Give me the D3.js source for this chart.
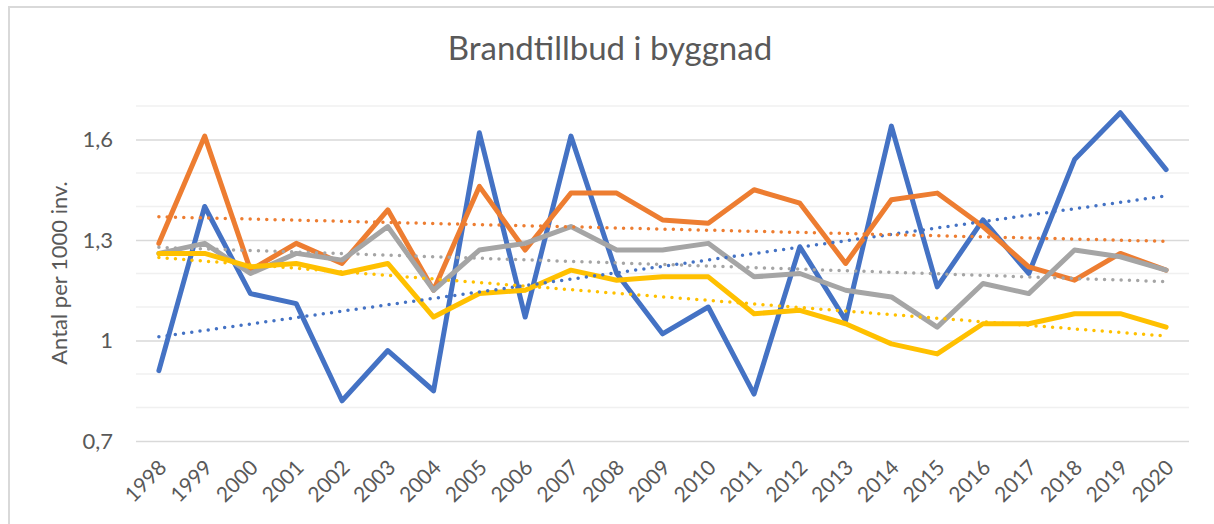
<!DOCTYPE html>
<html>
<head>
<meta charset="utf-8">
<script src="https://cdn.jsdelivr.net/npm/d3@7"></script>
<style>
  html, body { margin: 0; padding: 0; background: #fff; }
  svg text { font-family: Lato, "Open Sans", sans-serif; fill: #595959; }
</style>
</head>
<body>
<div id="chart"></div>
<script>
const years = ["1998","1999","2000","2001","2002","2003","2004","2005","2006","2007","2008","2009","2010","2011","2012","2013","2014","2015","2016","2017","2018","2019","2020"];
const blueValues   = [0.91,1.40,1.14,1.11,0.82,0.97,0.85,1.62,1.07,1.61,1.20,1.02,1.10,0.84,1.28,1.06,1.64,1.16,1.36,1.20,1.54,1.68,1.51];
const orangeValues = [1.29,1.61,1.21,1.29,1.23,1.39,1.15,1.46,1.27,1.44,1.44,1.36,1.35,1.45,1.41,1.23,1.42,1.44,1.34,1.22,1.18,1.26,1.21];
const grayValues   = [1.26,1.29,1.20,1.26,1.24,1.34,1.15,1.27,1.29,1.34,1.27,1.27,1.29,1.19,1.20,1.15,1.13,1.04,1.17,1.14,1.27,1.25,1.21];
const yellowValues = [1.26,1.26,1.22,1.23,1.20,1.23,1.07,1.14,1.15,1.21,1.18,1.19,1.19,1.08,1.09,1.05,0.99,0.96,1.05,1.05,1.08,1.08,1.04];
const majorTicks = [0.7, 1.0, 1.3, 1.6];
const minorTicks = [0.8,0.9,1.1,1.2,1.4,1.5,1.7];

const series = [
  { name: "blue",   color: "#4472C4", values: blueValues },
  { name: "orange", color: "#ED7D31", values: orangeValues },
  { name: "gray",   color: "#A5A5A5", values: grayValues },
  { name: "yellow", color: "#FFC000", values: yellowValues }
];

const width = 1214, height = 524;
const plotLeft = 136, plotRight = 1189, plotTop = 106, plotBottom = 441;

const svg = d3.select("#chart").append("svg")
  .attr("width", width)
  .attr("height", height);

// chart frame (right/bottom edges fall outside the picture)
svg.append("rect")
  .attr("x", 9).attr("y", 7)
  .attr("width", 1230).attr("height", 540)
  .attr("fill", "#fff")
  .attr("stroke", "#d9d9d9")
  .attr("stroke-width", 2);

const x = d3.scaleBand().domain(years).range([plotLeft, plotRight]);
const y = d3.scaleLinear().domain([0.7, 1.7]).range([plotBottom, plotTop]);
const cx = d => x(d) + x.bandwidth() / 2;

// minor gridlines
svg.append("g").selectAll("line")
  .data(minorTicks)
  .join("line")
  .attr("x1", plotLeft).attr("x2", plotRight)
  .attr("y1", d => y(d)).attr("y2", d => y(d))
  .attr("stroke", "#f0f0f0")
  .attr("stroke-width", 1.5);

// major gridlines + labels
const yAxis = d3.axisLeft(y)
  .tickValues(majorTicks)
  .tickSize(-(plotRight - plotLeft))
  .tickPadding(23)
  .tickFormat(d => d3.format(".1~f")(d).replace(".", ","));

const gy = svg.append("g")
  .attr("transform", `translate(${plotLeft},0)`)
  .call(yAxis);
gy.select(".domain").remove();
gy.selectAll(".tick line").attr("stroke", "#d9d9d9").attr("stroke-width", 1.5);
gy.selectAll(".tick text")
  .style("font-size", "22px")
  .attr("fill", "#595959");

// x axis labels
const xAxis = d3.axisBottom(x).tickSize(0).tickPadding(0);
const gx = svg.append("g")
  .attr("transform", `translate(0,${plotBottom})`)
  .call(xAxis);
gx.select(".domain").remove();
gx.selectAll(".tick text")
  .style("font-size", "21px")
  .attr("fill", "#595959")
  .attr("text-anchor", "end")
  .attr("dy", 0)
  .attr("y", 0)
  .attr("transform", "translate(9,28) rotate(-45)");

// title
svg.append("text")
  .attr("x", 610).attr("y", 60)
  .attr("text-anchor", "middle")
  .style("font-size", "33px")
  .text("Brandtillbud i byggnad");

// y label
svg.append("text")
  .attr("transform", `translate(67,273) rotate(-90)`)
  .attr("text-anchor", "middle")
  .style("font-size", "22px")
  .text("Antal per 1000 inv.");

// lines
const line = d3.line()
  .x((d, i) => cx(years[i]))
  .y(d => y(d));

svg.append("g").selectAll("path")
  .data(series)
  .join("path")
  .attr("d", d => line(d.values))
  .attr("fill", "none")
  .attr("stroke", d => d.color)
  .attr("stroke-width", 5)
  .attr("stroke-linejoin", "round")
  .attr("stroke-linecap", "round");

// linear trendlines (least squares over index)
function trend(values) {
  const n = values.length;
  const idx = d3.range(n);
  const mx = d3.mean(idx), my = d3.mean(values);
  const b = d3.sum(idx, i => (i - mx) * (values[i] - my)) / d3.sum(idx, i => (i - mx) ** 2);
  const a = my - b * mx;
  return [a, a + b * (n - 1)];
}

svg.append("g").selectAll("line")
  .data(series)
  .join("line")
  .each(function (d) {
    const [v0, v1] = trend(d.values);
    d3.select(this)
      .attr("x1", cx(years[0])).attr("y1", y(v0))
      .attr("x2", cx(years[years.length - 1])).attr("y2", y(v1));
  })
  .attr("stroke", d => d.color)
  .attr("stroke-width", 3.5)
  .attr("stroke-linecap", "round")
  .attr("stroke-dasharray", "0 8.3");
</script>
</body>
</html>
